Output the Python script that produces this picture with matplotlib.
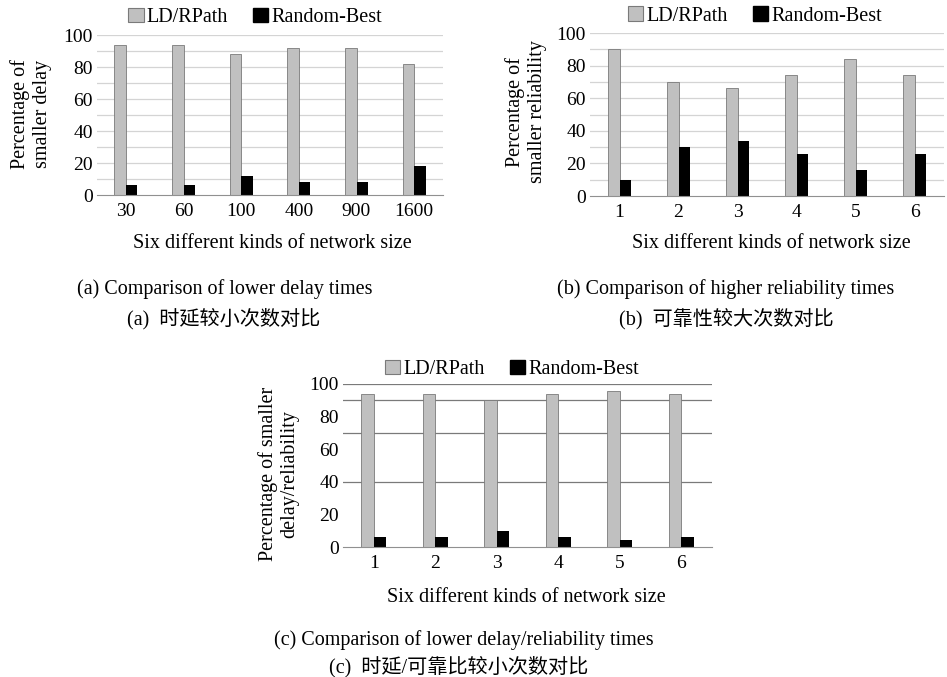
import matplotlib
matplotlib.use('Agg')
import matplotlib.pyplot as plt
from matplotlib.patches import Patch
import numpy as np

plt.rcParams['font.family'] = ['Liberation Serif', 'Noto Sans CJK SC', 'DejaVu Sans']

W, H = 947, 677

series_names = ['LD/RPath', 'Random-Best']

sizes_a = ['30', '60', '100', '400', '900', '1600']
ld_a = [94, 94, 88, 92, 92, 82]
rb_a = [6, 6, 12, 8, 8, 18]

sizes_b = ['1', '2', '3', '4', '5', '6']
ld_b = [90, 70, 66, 74, 84, 74]
rb_b = [10, 30, 34, 26, 16, 26]

sizes_c = ['1', '2', '3', '4', '5', '6']
ld_c = [94, 94, 90, 94, 96, 94]
rb_c = [6, 6, 10, 6, 4, 6]

xlabel = 'Six different kinds of network size'
LD_COLOR = '#c0c0c0'
LD_EDGE = '#7a7a7a'
FS = 14.5


def px_axes(fig, left, right, top, bottom):
	return fig.add_axes([left / W, (H - bottom) / H, (right - left) / W, (bottom - top) / H])


def draw_panel(ax, labels, ld, rb, grid_vals, grid_color, leg_x, leg_y):
	x = np.arange(len(labels))
	ax.bar(x - 0.1, ld, width=0.2, color=LD_COLOR, edgecolor=LD_EDGE, linewidth=0.6, zorder=3)
	ax.bar(x + 0.1, rb, width=0.2, color='black', zorder=3)
	for g in grid_vals:
		ax.axhline(g, color=grid_color, linewidth=0.9, zorder=1)
	ax.set_xlim(-0.5, len(labels) - 0.5)
	ax.set_ylim(0, 100)
	ax.set_yticks([0, 20, 40, 60, 80, 100])
	ax.set_xticks(x)
	ax.set_xticklabels(labels)
	ax.tick_params(axis='both', length=0, labelsize=14)
	ax.tick_params(axis='x', pad=6)
	ax.tick_params(axis='y', pad=3)
	for s in ['top', 'right', 'left']:
		ax.spines[s].set_visible(False)
	ax.spines['bottom'].set_color('#909090')
	ax.spines['bottom'].set_zorder(4)
	handles = [Patch(facecolor=LD_COLOR, edgecolor=LD_EDGE, linewidth=0.8),
			   Patch(facecolor='black', edgecolor='black')]
	ax.legend(handles, series_names, loc='center', bbox_to_anchor=(leg_x, leg_y), ncol=2,
			  frameon=False, fontsize=FS, handlelength=0.75, handleheight=0.75,
			  handletextpad=0.15, columnspacing=1.25, borderpad=0)


fig = plt.figure(figsize=(W / 100, H / 100), dpi=100)

ax_a = px_axes(fig, 97, 443, 35, 195)
draw_panel(ax_a, sizes_a, ld_a, rb_a, range(10, 101, 10), '#d4d4d4', 0.457, 1.11)

ax_b = px_axes(fig, 590, 944, 33, 196)
draw_panel(ax_b, sizes_b, ld_b, rb_b, range(10, 101, 10), '#d4d4d4', 0.466, 1.105)

ax_c = px_axes(fig, 343, 712, 384, 547)
draw_panel(ax_c, sizes_c, ld_c, rb_c, [40, 70, 90, 100], '#7a7a7a', 0.458, 1.09)

def ftext(x, y, s, **kw):
	fig.text(x / W, 1 - y / H, s, ha='center', va='center', **kw)

ftext(31, 114, 'Percentage of\nsmaller delay', rotation=90, fontsize=FS, linespacing=1.15)
ftext(526, 112, 'Percentage of\nsmaller reliability', rotation=90, fontsize=FS, linespacing=1.15)
ftext(279, 474, 'Percentage of smaller\ndelay/reliability', rotation=90, fontsize=FS, linespacing=1.15)

ftext(272, 243, xlabel, fontsize=FS)
ftext(771, 243, xlabel, fontsize=FS)
ftext(526, 597, xlabel, fontsize=FS)

ftext(225, 289, '(a) Comparison of lower delay times', fontsize=FS)
ftext(224, 319, '(a)  时延较小次数对比', fontsize=FS)
ftext(726, 289, '(b) Comparison of higher reliability times', fontsize=FS)
ftext(726, 319, '(b)  可靠性较大次数对比', fontsize=FS)
ftext(464, 640, '(c) Comparison of lower delay/reliability times', fontsize=FS)
ftext(459, 667, '(c)  时延/可靠比较小次数对比', fontsize=FS)

fig.savefig('out.png', dpi=100)
